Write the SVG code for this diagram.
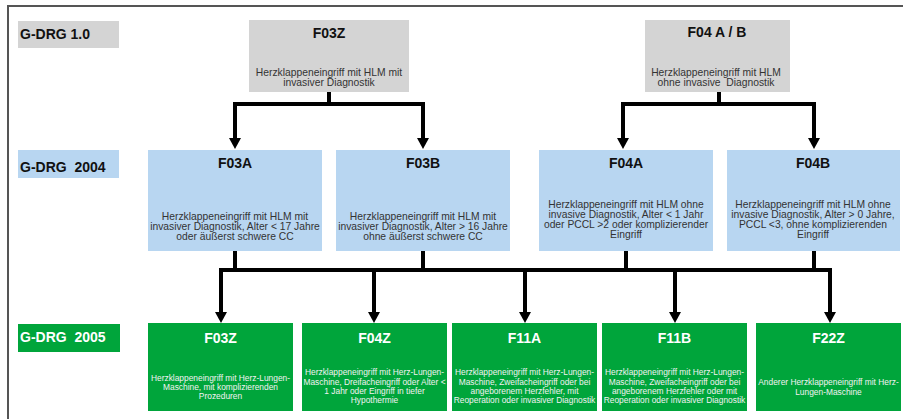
<svg xmlns="http://www.w3.org/2000/svg" width="903" height="419" viewBox="0 0 903 419">
<style>
  text { font-family: "Liberation Sans", Arial, sans-serif; }
  .lbl { font-size: 14px; font-weight: bold; fill: #111; white-space: pre; }
  .ttl { font-size: 14px; font-weight: bold; fill: #111; text-anchor: middle; white-space: pre; }
  .dsc { font-size: 10.3px; fill: #333; text-anchor: middle; white-space: pre; }
  .gttl { font-size: 14px; font-weight: bold; fill: #fff; text-anchor: middle; }
  .gdsc { font-size: 8.4px; fill: #f2f2f2; text-anchor: middle; }
  .gray { fill: #d4d4d4; }
  .blue { fill: #b8d6f1; }
  .green { fill: #00a53b; }
  .conn { fill: none; stroke: #000; stroke-width: 4; stroke-linejoin: miter; }
</style>
<defs>
  <marker id="ah" markerUnits="userSpaceOnUse" markerWidth="12" markerHeight="12" viewBox="0 0 11 12" refX="0" refY="6" orient="auto">
    <path d="M0,0 L11,6 L0,12 Z" fill="#000"/>
  </marker>
</defs>
<rect width="903" height="419" fill="#fff"/>
<g id="frame" fill="none" stroke="#555" stroke-width="2">
  <path d="M903,6 H8 V419"/>
</g>

<g id="label-1">
  <rect class="gray" x="18" y="21" width="101" height="27"/>
  <text class="lbl" x="20" y="39">G-DRG 1.0</text>
</g>
<g id="label-2004">
  <rect class="blue" x="18" y="150" width="101" height="28"/>
  <text class="lbl" x="20" y="172">G-DRG  2004</text>
</g>
<g id="label-2005">
  <rect class="green" x="18" y="324" width="102" height="28"/>
  <text class="lbl" x="20" y="342" style="fill:#fff">G-DRG  2005</text>
</g>

<g id="connectors">
  <path class="conn" d="M329,92 V104 H235 V138" marker-end="url(#ah)"/>
  <path class="conn" d="M329,104 H423 V138" marker-end="url(#ah)"/>
  <path class="conn" d="M719,92 V104 H623 V138" marker-end="url(#ah)"/>
  <path class="conn" d="M719,104 H814 V138" marker-end="url(#ah)"/>
  <path class="conn" d="M235,251 V270 H221 V312" marker-end="url(#ah)"/>
  <path class="conn" d="M814,251 V270 H830 V312" marker-end="url(#ah)"/>
  <path class="conn" d="M221,270 H830"/>
  <path class="conn" d="M423,251 V270"/>
  <path class="conn" d="M626,251 V270"/>
  <path class="conn" d="M374,270 V312" marker-end="url(#ah)"/>
  <path class="conn" d="M525,270 V312" marker-end="url(#ah)"/>
  <path class="conn" d="M675,270 V312" marker-end="url(#ah)"/>
</g>

<g id="n-F03Z-1">
  <rect class="gray" x="249" y="20" width="160" height="72"/>
  <text class="ttl" x="329" y="38">F03Z</text>
  <text class="dsc" x="329" y="76">Herzklappeneingriff mit HLM mit</text>
  <text class="dsc" x="329" y="86">invasiver Diagnostik</text>
</g>
<g id="n-F04AB">
  <rect class="gray" x="645" y="20" width="145" height="72"/>
  <text class="ttl" x="717" y="37">F04 A / B</text>
  <text class="dsc" x="716" y="76">Herzklappeneingriff mit HLM</text>
  <text class="dsc" x="716" y="86">ohne invasive  Diagnostik</text>
</g>

<g id="n-F03A">
  <rect class="blue" x="148" y="150" width="174" height="101"/>
  <text class="ttl" x="235" y="168">F03A</text>
  <text class="dsc" x="235" y="220">Herzklappeneingriff mit HLM mit</text>
  <text class="dsc" x="235" y="230">invasiver Diagnostik, Alter &lt; 17 Jahre</text>
  <text class="dsc" x="235" y="240">oder äußerst schwere CC</text>
</g>
<g id="n-F03B">
  <rect class="blue" x="336" y="150" width="174" height="101"/>
  <text class="ttl" x="423" y="168">F03B</text>
  <text class="dsc" x="423" y="220">Herzklappeneingriff mit HLM mit</text>
  <text class="dsc" x="423" y="230">invasiver Diagnostik, Alter &gt; 16 Jahre</text>
  <text class="dsc" x="423" y="240">ohne äußerst schwere CC</text>
</g>
<g id="n-F04A">
  <rect class="blue" x="539" y="150" width="174" height="101"/>
  <text class="ttl" x="626" y="168">F04A</text>
  <text class="dsc" x="626" y="208">Herzklappeneingriff mit HLM ohne</text>
  <text class="dsc" x="626" y="218">invasive Diagnostik, Alter &lt; 1 Jahr</text>
  <text class="dsc" x="626" y="228">oder PCCL &gt;2 oder komplizierender</text>
  <text class="dsc" x="626" y="238">Eingriff</text>
</g>
<g id="n-F04B">
  <rect class="blue" x="727" y="150" width="173" height="101"/>
  <text class="ttl" x="813" y="168">F04B</text>
  <text class="dsc" x="813" y="208">Herzklappeneingriff mit HLM ohne</text>
  <text class="dsc" x="813" y="218">invasive Diagnostik, Alter &gt; 0 Jahre,</text>
  <text class="dsc" x="813" y="228">PCCL &lt;3, ohne komplizierenden</text>
  <text class="dsc" x="813" y="238">Eingriff</text>
</g>

<g id="n-F03Z-2005">
  <rect class="green" x="148" y="323" width="145" height="88"/>
  <text class="gttl" x="220.5" y="343">F03Z</text>
  <text class="gdsc" x="220.5" y="381">Herzklappeneingriff mit Herz-Lungen-</text>
  <text class="gdsc" x="220.5" y="390">Maschine, mit komplizierenden</text>
  <text class="gdsc" x="220.5" y="399">Prozeduren</text>
</g>
<g id="n-F04Z">
  <rect class="green" x="302" y="323" width="145" height="88"/>
  <text class="gttl" x="374.5" y="343">F04Z</text>
  <text class="gdsc" x="374.5" y="375">Herzklappeneingriff mit Herz-Lungen-</text>
  <text class="gdsc" x="374.5" y="385">Maschine, Dreifacheingriff oder Alter &lt;</text>
  <text class="gdsc" x="374.5" y="394">1 Jahr oder Eingriff in tiefer</text>
  <text class="gdsc" x="374.5" y="403">Hypothermie</text>
</g>
<g id="n-F11A">
  <rect class="green" x="452" y="323" width="145" height="88"/>
  <text class="gttl" x="524.5" y="343">F11A</text>
  <text class="gdsc" x="524.5" y="375">Herzklappeneingriff mit Herz-Lungen-</text>
  <text class="gdsc" x="524.5" y="385">Maschine, Zweifacheingriff oder bei</text>
  <text class="gdsc" x="524.5" y="394">angeborenem Herzfehler, mit</text>
  <text class="gdsc" x="524.5" y="403">Reoperation oder invasiver Diagnostik</text>
</g>
<g id="n-F11B">
  <rect class="green" x="602" y="323" width="145" height="88"/>
  <text class="gttl" x="674.5" y="343">F11B</text>
  <text class="gdsc" x="674.5" y="375">Herzklappeneingriff mit Herz-Lungen-</text>
  <text class="gdsc" x="674.5" y="385">Maschine, Zweifacheingriff oder bei</text>
  <text class="gdsc" x="674.5" y="394">angeborenem Herzfehler oder mit</text>
  <text class="gdsc" x="674.5" y="403">Reoperation oder invasiver Diagnostik</text>
</g>
<g id="n-F22Z">
  <rect class="green" x="756" y="323" width="145" height="88"/>
  <text class="gttl" x="828.5" y="343">F22Z</text>
  <text class="gdsc" x="828.5" y="385">Anderer Herzklappeneingriff mit Herz-</text>
  <text class="gdsc" x="828.5" y="394.5">Lungen-Maschine</text>
</g>
</svg>
